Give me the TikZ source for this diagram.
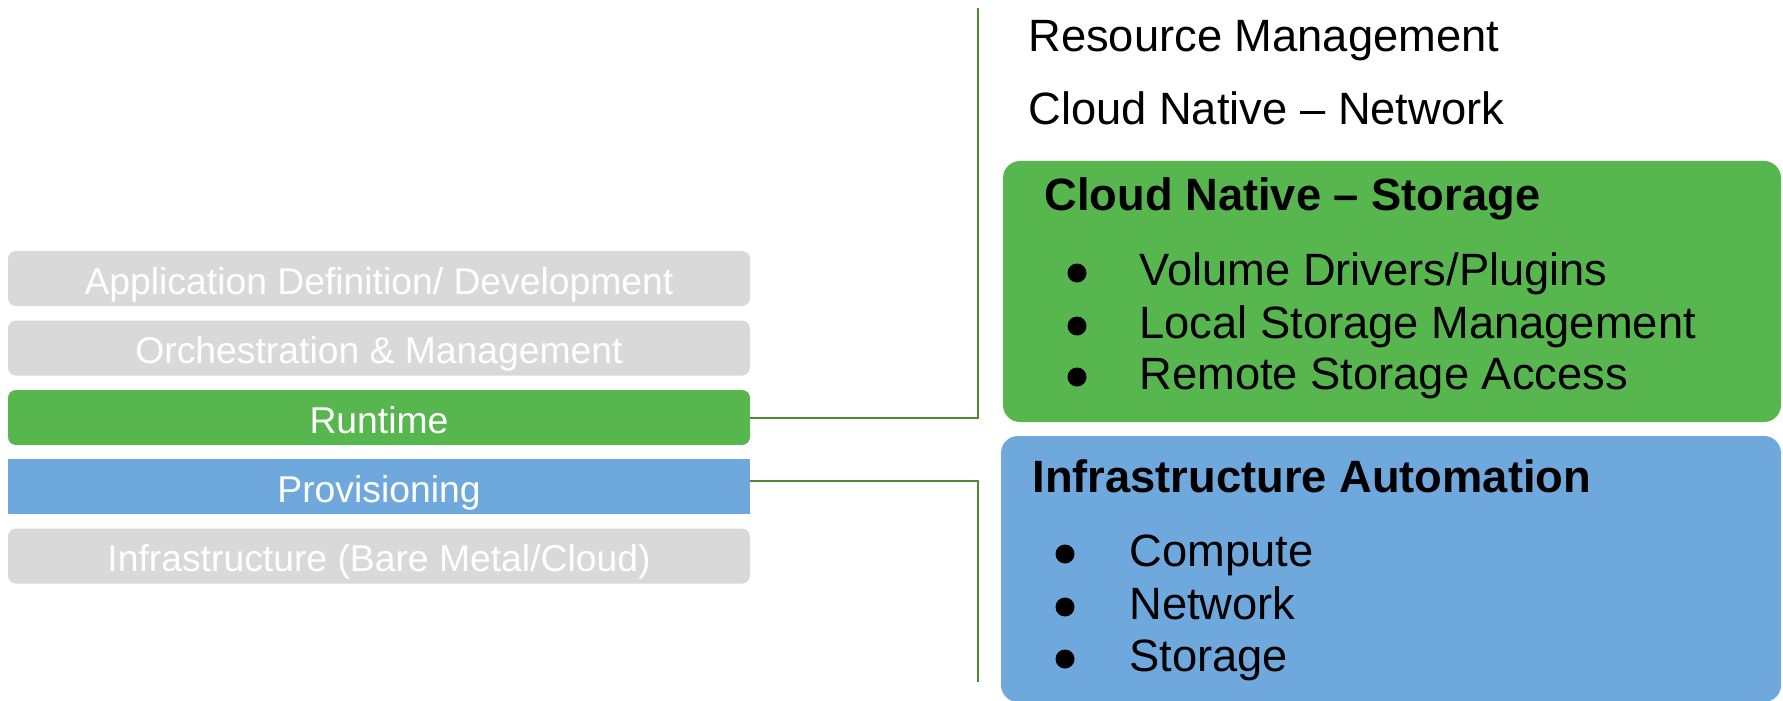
\documentclass[tikz,border=0pt]{standalone}
\usepackage{fontspec}
\setmainfont{Liberation Sans}
\definecolor{layergrey}{HTML}{D9D9D9}
\definecolor{layergreen}{HTML}{57B64E}
\definecolor{layerblue}{HTML}{6FA8DC}
\definecolor{linkgreen}{HTML}{4E8A35}
\tikzset{
  layer/.style={inner sep=0pt, minimum width=371pt, minimum height=27.5pt},
  greybar/.style={layer, fill=layergrey, rounded corners=4pt},
  greenbar/.style={layer, fill=layergreen, rounded corners=4pt},
  bluebar/.style={layer, fill=layerblue},
  bartext/.style={anchor=base, text=white, inner sep=0pt, font=\fontsize{18.65}{20}\selectfont},
  panel/.style={inner sep=0pt, rounded corners=8.5pt},
  ptext/.style={anchor=base west, inner sep=0pt, font=\fontsize{22.65}{24}\selectfont},
  ptitle/.style={ptext, font=\fontsize{22.65}{24}\selectfont\bfseries},
  dot/.style={circle, fill=black, inner sep=0pt, minimum size=9.5pt},
  link/.style={draw=linkgreen, line width=1pt}
}
\begin{document}
\begin{tikzpicture}[x=0.5pt,y=-0.5pt]
\useasboundingbox (0,0) rectangle (1783,701);

% layer stack
\node[greybar]  (app)   at (379,278.5) {};
\node[greybar]  (orch)  at (379,348)   {};
\node[greenbar] (rt)    at (379,417.5) {};
\node[bluebar]  (prov)  at (379,486.5) {};
\node[greybar]  (infra) at (379,556)   {};
\node[bartext] (appt)   at ([yshift=-7.8pt]app.center)   {Application Definition/ Development};
\node[bartext] (orcht)  at ([yshift=-7.8pt]orch.center)  {Orchestration \& Management};
\node[bartext] (rtt)    at ([yshift=-7.8pt]rt.center)    {Runtime};
\node[bartext] (provt)  at ([yshift=-7.8pt]prov.center)  {Provisioning};
\node[bartext] (infrat) at ([yshift=-7.8pt]infra.center) {Infrastructure (Bare Metal/Cloud)};

% runtime details
\node[ptext] (res) at (1028,52)  {Resource Management};
\node[ptext] (net) at (1028,125) {Cloud Native – Network};
\node[panel, fill=layergreen, minimum width=389pt, minimum height=130.5pt] (stor) at (1392,291.5) {};
\node[ptitle] (stort) at (1044,210) {Cloud Native – Storage};
\node[dot] (s1) at (1077,273) {};
\node[dot] (s2) at (1077,326) {};
\node[dot] (s3) at (1077,377) {};
\node[ptext] (s1t) at (1139,285) {Volume Drivers/Plugins};
\node[ptext] (s2t) at (1139,338) {Local Storage Management};
\node[ptext] (s3t) at (1139,389) {Remote Storage Access};

% provisioning details
\node[panel, fill=layerblue, minimum width=390pt, minimum height=133pt] (auto) at (1391,569) {};
\node[ptitle] (autot) at (1032,492) {Infrastructure Automation};
\node[dot] (a1) at (1065,554) {};
\node[dot] (a2) at (1065,607) {};
\node[dot] (a3) at (1065,659) {};
\node[ptext] (a1t) at (1129,566) {Compute};
\node[ptext] (a2t) at (1129,619) {Network};
\node[ptext] (a3t) at (1129,671) {Storage};

% brackets
\coordinate (rtend) at (978,8);
\coordinate (provend) at (978,682);
\draw[link] (rt.east) -| (rtend);
\draw[link] ([yshift=3pt]prov.east) -| (provend);
\end{tikzpicture}
\end{document}
